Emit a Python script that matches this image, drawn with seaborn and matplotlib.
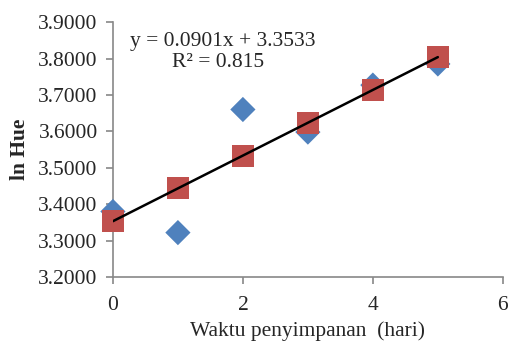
import numpy as np
import pandas as pd
import seaborn as sns
import matplotlib
matplotlib.use('Agg')
import matplotlib.pyplot as plt

# data
days = [0, 1, 2, 3, 4, 5]
ln_hue = [3.380, 3.322, 3.660, 3.598, 3.727, 3.785]
ln_hue_fit = [3.3533, 3.4434, 3.5335, 3.6236, 3.7137, 3.8038]
x_ticks = [0, 2, 4, 6]
y_ticks = [3.2, 3.3, 3.4, 3.5, 3.6, 3.7, 3.8, 3.9]

d = pd.DataFrame({'Hari': days, 'Observed': ln_hue, 'Fit': ln_hue_fit})

sns.set_style("white", {'xtick.bottom': True, 'ytick.left': True})
plt.rcParams['font.family'] = ['Liberation Serif', 'DejaVu Serif']
plt.rcParams['xtick.major.size'] = 5
plt.rcParams['ytick.major.size'] = 5

fig = plt.figure(figsize=(5.11, 3.45), dpi=100)
ax = fig.add_axes([0.221, 0.197, 0.763, 0.739])

sns.scatterplot(x='Hari', y='Observed', data=d, marker='D', s=165,
                color='#4F81BD', edgecolor='none', ax=ax, zorder=3, clip_on=False)
sns.lineplot(x='Hari', y='Fit', data=d, color='black', linewidth=1.8,
             ax=ax, zorder=5)
sns.scatterplot(x='Hari', y='Fit', data=d, marker='s', s=250,
                color='#C0504D', edgecolor='none', ax=ax, zorder=4, clip_on=False)

ax.set_xlim(0, 6)
ax.set_ylim(3.2, 3.9)
ax.set_xticks(x_ticks)
ax.set_yticks(y_ticks)
ax.set_yticklabels(['%.4f' % v for v in y_ticks])
ax.set_xticklabels([str(v) for v in x_ticks])

for s in ['top', 'right']:
    ax.spines[s].set_visible(False)
for s in ['left', 'bottom']:
    ax.spines[s].set_color('#888888')
    ax.spines[s].set_linewidth(1.2)
ax.tick_params(axis='both', which='major', direction='out', length=5, width=1.2,
               color='#888888', labelsize=15.5, pad=6, bottom=True, left=True)
ax.tick_params(axis='x', pad=9)

ax.set_xlabel('Waktu penyimpanan  (hari)', fontsize=15.5, labelpad=4)
ax.set_ylabel('ln Hue', fontsize=15.5, fontweight='bold', labelpad=6)

ax.text(1.69, 3.848, 'y = 0.0901x + 3.3533', fontsize=15.5,
        ha='center', va='center')
ax.text(1.62, 3.79, 'R² = 0.815', fontsize=15.5,
        ha='center', va='center')

fig.savefig('out.png', dpi=100)
